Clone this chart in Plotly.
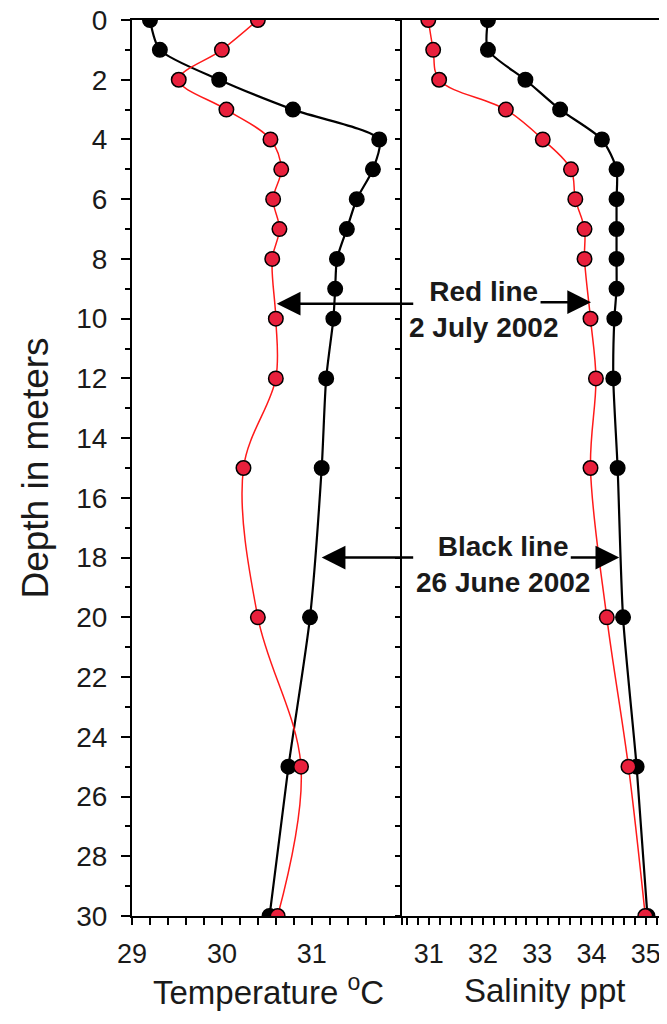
import plotly.graph_objects as go

# ---- data ----
depth_black = [0, 1, 2, 3, 4, 5, 6, 7, 8, 9, 10, 12, 15, 20, 25, 30]
temp_black = [29.20, 29.31, 29.97, 30.79, 31.75, 31.68, 31.50, 31.39, 31.28, 31.26,
              31.24, 31.16, 31.11, 30.98, 30.74, 30.53]
sal_black = [32.09, 32.09, 32.78, 33.42, 34.19, 34.46, 34.46, 34.46, 34.46, 34.46,
             34.42, 34.40, 34.48, 34.58, 34.83, 35.03]

depth_red = [0, 1, 2, 3, 4, 5, 6, 7, 8, 10, 12, 15, 20, 25, 30]
temp_red = [30.40, 30.00, 29.52, 30.05, 30.54, 30.66, 30.57, 30.64, 30.56, 30.60,
            30.60, 30.24, 30.40, 30.88, 30.62]
sal_red = [30.99, 31.08, 31.19, 32.42, 33.10, 33.62, 33.70, 33.87, 33.87, 33.98,
           34.08, 33.98, 34.28, 34.68, 34.99]

temp_ticks = [29, 30, 31]
sal_ticks = [31, 32, 33, 34, 35]
depth_ticks = list(range(0, 31, 2))

FONT = "Liberation Sans, Arial, sans-serif"
RED_LINE = "#ff1a1a"
RED_FILL = "#e8203c"
TXT = "#1a1a1a"

fig = go.Figure()

def add_pair(x, y, xa, ya, color, fill, width, smooth):
    fig.add_trace(go.Scatter(
        x=x, y=y, xaxis=xa, yaxis=ya, mode="lines+markers",
        line=dict(color=color, width=width, shape="spline", smoothing=smooth),
        marker=dict(size=14.5, color=fill, line=dict(color="black", width=1.5)),
        showlegend=False, hoverinfo="skip"))

add_pair(temp_black, depth_black, "x", "y", "black", "black", 2.2, 0.7)
add_pair(sal_black, depth_black, "x2", "y2", "black", "black", 2.2, 0.7)
add_pair(temp_red, depth_red, "x", "y", RED_LINE, RED_FILL, 1.5, 1.0)
add_pair(sal_red, depth_red, "x2", "y2", RED_LINE, RED_FILL, 1.5, 1.0)

# page has an 8px body margin; plot area spans x 132..667, y 20..916 on the page
L, T, PW, PH = 124, 12, 535, 896
split = (401.7 - 132) / PW

axis_common = dict(showgrid=False, zeroline=False, showline=True, linecolor="black",
                   linewidth=2, ticks="outside", tickcolor="black", tickwidth=1.5,
                   automargin=False, ticklabeloverflow="allow")
tick_font = dict(family=FONT, size=27, color=TXT)

fig.update_layout(
    width=L + PW, height=1016,
    margin=dict(l=L, r=0, t=T, b=1016 - T - PH),
    paper_bgcolor="white", plot_bgcolor="white",
    xaxis=dict(domain=[0, split], range=[29, 32], tickvals=temp_ticks, ticklen=7,
               mirror=True, anchor="y", tickfont=tick_font,
               minor=dict(dtick=0.2, ticks="outside", ticklen=7, tickcolor="black"),
               ticklabelstandoff=6, **axis_common),
    xaxis2=dict(domain=[split, 1], range=[30.5, 35.39], tickvals=sal_ticks, ticklen=7,
                mirror=True, anchor="y2", tickfont=tick_font,
                minor=dict(dtick=0.2, ticks="outside", ticklen=7, tickcolor="black"),
                ticklabelstandoff=6, **axis_common),
    yaxis=dict(range=[30, 0], tickvals=depth_ticks, ticklen=9, anchor="x",
               tickfont=dict(family=FONT, size=28, color=TXT),
               minor=dict(dtick=1, ticks="outside", ticklen=5, tickcolor="black"),
               ticklabelstandoff=8,
               title=dict(text="Depth in meters", standoff=16,
                          font=dict(family=FONT, size=37, color=TXT)),
               **axis_common),
    yaxis2=dict(range=[30, 0], dtick=1, ticklen=5, anchor="x2", matches="y",
                showticklabels=False, **axis_common),
)

def px(xp):
    return (xp - 132) / PW

def py(yp):
    return (916 - yp) / PH

# x-axis titles placed under each panel
title_font = dict(family=FONT, size=33, color=TXT)
fig.add_annotation(x=px(268), y=py(990), xref="paper", yref="paper",
                   text="Temperature <sup>o</sup>C", showarrow=False, font=title_font,
                   xanchor="center", yanchor="middle")
fig.add_annotation(x=px(544), y=py(990), xref="paper", yref="paper",
                   text="Salinity ppt", showarrow=False, font=title_font,
                   xanchor="center", yanchor="middle")

# arrows
arrow = dict(showarrow=True, arrowhead=2, arrowsize=1.9, arrowwidth=2.5,
             arrowcolor="black", text="", ay=0)
fig.add_annotation(x=30.61, y=9.5, xref="x", yref="y", ax=138, **arrow)
fig.add_annotation(x=33.99, y=9.45, xref="x2", yref="y2", ax=-52, **arrow)
fig.add_annotation(x=31.11, y=18.0, xref="x", yref="y", ax=93, **arrow)
fig.add_annotation(x=34.51, y=18.0, xref="x2", yref="y2", ax=-50, **arrow)

label_font = dict(family=FONT, size=28, color=TXT)
fig.add_annotation(x=px(483.5), y=py(309), xref="paper", yref="paper",
                   text="<b>Red line<br>2 July 2002</b>", showarrow=False,
                   font=label_font, align="center", xanchor="center", yanchor="middle")
fig.add_annotation(x=px(503), y=py(564), xref="paper", yref="paper",
                   text="<b>Black line<br>26 June 2002</b>", showarrow=False,
                   font=label_font, align="center", xanchor="center", yanchor="middle")

fig.write_html("out.html")
